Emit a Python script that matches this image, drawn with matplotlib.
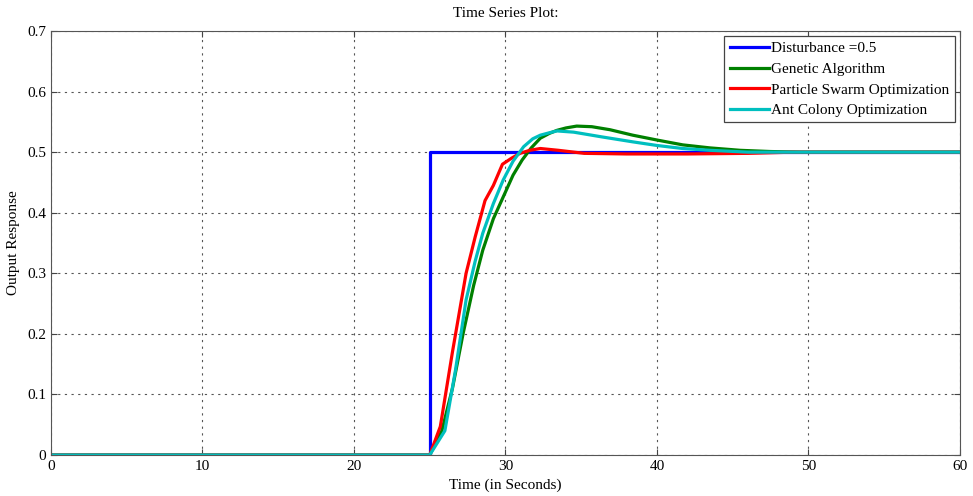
import numpy as np
import matplotlib.pyplot as plt

plt.rcParams['font.family'] = ['Liberation Serif', 'DejaVu Serif']

# disturbance step
t_dist = [0, 25, 25, 60]
v_dist = [0, 0, 0.5, 0.5]

# genetic algorithm
t_ga = [0, 25, 25.8, 26.5, 27.2, 27.9, 28.5, 29.2, 29.85, 30.5, 31.1, 31.7, 32.3, 32.9, 33.4, 34.0, 34.7, 35.7, 36.9, 38.4, 40.0, 41.7, 43.5, 45.5, 47.5, 49.5, 60]
v_ga = [0, 0, 0.04, 0.11, 0.20, 0.28, 0.338, 0.39, 0.426, 0.462, 0.487, 0.507, 0.523, 0.531, 0.536, 0.540, 0.543, 0.542, 0.537, 0.528, 0.520, 0.512, 0.507, 0.503, 0.501, 0.500, 0.500]

# particle swarm optimization
t_pso = [0, 25, 25.7, 26.5, 27.4, 28.0, 28.65, 29.2, 29.8, 30.4, 30.96, 31.6, 32.3, 33.5, 35.2, 38.0, 42.0, 46.0, 49.0, 60]
v_pso = [0, 0, 0.047, 0.17, 0.30, 0.36, 0.42, 0.445, 0.48, 0.49, 0.498, 0.503, 0.506, 0.503, 0.498, 0.497, 0.497, 0.498, 0.500, 0.500]

# ant colony optimization
t_aco = [0, 25, 26.0, 26.7, 27.4, 28.0, 28.5, 29.2, 29.85, 30.5, 31.2, 31.8, 32.3, 32.9, 33.4, 34.5, 36.4, 38.4, 40.0, 41.7, 43.5, 46.0, 60]
v_aco = [0, 0, 0.04, 0.14, 0.256, 0.32, 0.366, 0.415, 0.454, 0.485, 0.509, 0.522, 0.528, 0.532, 0.535, 0.533, 0.525, 0.517, 0.511, 0.506, 0.503, 0.500, 0.500]

fig = plt.figure(figsize=(9.73, 4.96), dpi=100)
ax = fig.add_axes([0.0524, 0.0827, 0.9342, 0.8548])

ax.plot(t_dist, v_dist, color='#0000ff', lw=2.3, label='Disturbance =0.5')
ax.plot(t_ga, v_ga, color='#008000', lw=2.3, label='Genetic Algorithm')
ax.plot(t_pso, v_pso, color='#ff0000', lw=2.3, label='Particle Swarm Optimization')
ax.plot(t_aco, v_aco, color='#00bfbf', lw=2.3, label='Ant Colony Optimization')

ax.set_xlim(0, 60)
ax.set_ylim(0, 0.7)
ax.set_xticks(np.arange(0, 61, 10))
ax.set_yticks(np.arange(0, 0.71, 0.1))
ax.set_yticklabels(['0', '0.1', '0.2', '0.3', '0.4', '0.5', '0.6', '0.7'])
ax.tick_params(direction='in', labelsize=11, length=4, color='#444444', top=True, right=True)
ax.grid(True, linestyle=(0, (2, 4)), color='#555555', lw=0.8)
for s in ax.spines.values():
    s.set_color('#555555')

ax.set_title('Time Series Plot:', fontsize=11, pad=10)
ax.set_xlabel('Time (in Seconds)', fontsize=11, labelpad=4)
ax.set_ylabel('Output Response', fontsize=11, labelpad=5)

leg = ax.legend(loc='upper right', fontsize=11, fancybox=False, framealpha=1,
                edgecolor='#444444', handlelength=2.6, handletextpad=0.1,
                borderpad=0.35, labelspacing=0.45, borderaxespad=0.35)
leg.get_frame().set_linewidth(0.9)

fig.savefig('out.png', dpi=100)
